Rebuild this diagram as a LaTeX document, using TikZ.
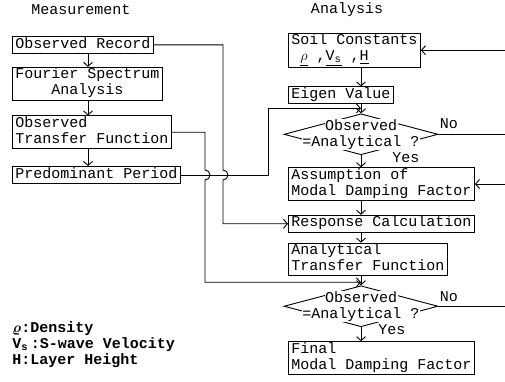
\documentclass[tikz,border=0pt]{standalone}
\usepackage{amsmath,bm}
\usepackage{fontspec}
\setmainfont{Liberation Mono}
\usepackage{tikz}
\usetikzlibrary{shapes.geometric,arrows.meta,positioning}
\tikzstyle{box} = [draw, align=left, inner xsep=3pt, inner ysep=0.5pt,
  execute at begin node=\strut, execute at end node=\strut]
\tikzstyle{decision} = [draw, diamond, minimum width=154pt, minimum height=41pt, inner sep=0pt]
\tikzstyle{dectext} = [align=center, inner sep=0pt]
\tikzstyle{lbl} = [inner sep=1pt]
\tikzstyle{flow} = [-{Straight Barb[length=4pt,width=9pt,line width=0.9pt]}]
\newcommand{\blank}[1]{{\setlength{\fboxsep}{0.5pt}\colorbox{white}{#1}}}

\begin{document}
\begin{tikzpicture}[x=1pt,y=-1pt,line width=0.9pt,font=\fontsize{15}{16}\selectfont]

\useasboundingbox (0,0) rectangle (505,382);

\node (meas) at (81,10) {Measurement};
\node (ana) at (347,10) {Analysis};

% guide lines for the connectors
\coordinate (lcol) at (88,0);
\coordinate (rcol) at (361,0);
\coordinate (jx1) at (223,0);
\coordinate (jx2) at (205,0);
\coordinate (jx3) at (268,0);
\coordinate (edge) at (505,0);

% measurement side
\node[box, anchor=north west] (rec) at (12,36) {Observed Record};
\node[box, below=13pt of rec.south west, anchor=north west] (four) {Fourier Spectrum\\\hphantom{xxxx}Analysis};
\node[box, below=15pt of four.south west, anchor=north west] (otf) {Observed\\Transfer Function};
\node[box, below=17pt of otf.south west, anchor=north west] (pp) {Predominant Period};

% analysis side
\node[box, anchor=north west] (soil) at (288,33) {Soil Constants\\\hphantom{x}\underline{$\rho$} ,\underline{V\textsubscript{s}} ,\underline{H}};
\node[box, below=19pt of soil.south west, anchor=north west] (eig) {Eigen Value};
\node[decision, below=9pt of eig.south -| rcol] (dec1) {};
\node[dectext] (dec1t) at (dec1) {\blank{Observed}\\\blank{=Analytical ?}};
\node[box, below=12pt of dec1.south -| soil.west, anchor=north west] (asm) {Assumption of\\Modal Damping Factor};
\node[box, below=14pt of asm.south west, anchor=north west] (resp) {Response Calculation};
\node[box, below=10pt of resp.south west, anchor=north west] (atf) {Analytical\\Transfer Function};
\node[decision, below=9pt of atf.south -| rcol] (dec2) {};
\node[dectext] (dec2t) at (dec2) {\blank{Observed}\\\blank{=Analytical ?}};
\node[box, below=14pt of dec2.south -| soil.west, anchor=north west] (fin) {Final\\Modal Damping Factor};

\node[lbl, anchor=west] (yes1) at ([xshift=30pt,yshift=-2pt]dec1.south) {Yes};
\node[lbl, anchor=south west] (no1) at ([yshift=4pt]dec1.east) {No};
\node[lbl, anchor=west] (yes2) at ([xshift=16pt,yshift=-2pt]dec2.south) {Yes};
\node[lbl, anchor=south west] (no2) at ([yshift=3pt]dec2.east) {No};

\node[anchor=north west, align=left, inner sep=0pt,
  font=\fontsize{15}{16}\selectfont\bfseries] (key) at (12,321)
  {$\bm{\varrho}$:Density\\V\textsubscript{s}\,:S-wave Velocity\\H:Layer Height};

% flow down each column
\draw[flow] (rec.south -| lcol) -- (four.north -| lcol);
\draw[flow] (four.south -| lcol) -- (otf.north -| lcol);
\draw[flow] (otf.south -| lcol) -- (pp.north -| lcol);
\draw[flow] (soil.south -| rcol) -- (eig.north -| rcol);
\draw[flow] (eig.south -| rcol) -- (dec1.north);
\draw[flow] (dec1.south) -- (asm.north -| dec1);
\draw[flow] (asm.south -| rcol) -- (resp.north -| rcol);
\draw[flow] (resp.south -| rcol) -- (atf.north -| rcol);
\draw[flow] (atf.south -| rcol) -- (dec2.north);
\draw[flow] (dec2.south) -- (fin.north -| dec2);

% observed data into the analysis
\coordinate (hop) at ([yshift=5pt]pp.east);
\coordinate (tap1) at ([yshift=5pt]dec1.north);
\coordinate (tap2) at ([yshift=3pt]dec2.north);
\draw[flow] (rec.east) -- (rec.east -| jx1) -- (hop -| jx1)
  arc[start angle=90,end angle=-90,radius=5pt] -- (resp.west -| jx1) -- (resp.west);
\draw[flow] (otf.east) -- (otf.east -| jx2) -- (hop -| jx2)
  arc[start angle=90,end angle=-90,radius=5pt] -- (tap2 -| jx2) -- (tap2);
\draw[flow] (pp.east) -- (pp.east -| jx3) -- (tap1 -| jx3) -- (tap1);

% loops leaving the right edge
\draw[flow] (soil.east -| edge) -- (soil.east);
\draw (dec1.east) -- (dec1.east -| edge);
\draw[flow] (asm.east -| edge) -- (asm.east);
\draw (dec2.east) -- (dec2.east -| edge);

\end{tikzpicture}
\end{document}
